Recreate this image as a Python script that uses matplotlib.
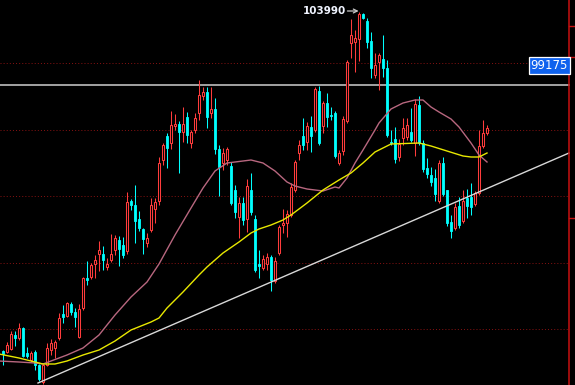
import matplotlib
matplotlib.use("Agg")
import matplotlib.pyplot as plt
from matplotlib.patches import Rectangle

# ---- data (prices) ----
opens = [73480, 73390, 73660, 74920, 74650, 75550, 73300, 72670, 73390, 72220,
         70690, 72220, 73570, 73750, 74650, 76810, 76630, 77710, 76990, 74740,
         77350, 80050, 80140, 81310, 82210, 82210, 81040, 81670, 82570, 83470,
         83020, 82480, 86980, 86620, 85360, 84460, 83200, 84370, 86260, 86980,
         90670, 92830, 92200, 93730, 93910, 93190, 94540, 92200, 93370, 94900,
         96430, 96790, 94900, 95260, 91660, 90400, 90670, 90130, 87970, 85540,
         86800, 85360, 87970, 85360, 81310, 80950, 81310, 81940, 79780, 82300,
         84820, 85000, 85720, 87970, 91300, 92830, 92290, 93640, 93370, 96880,
         93730, 95800, 94720, 94900, 90400, 91480, 94180, 101200, 101290, 101560,
         103810, 103180, 101380, 98320, 99490, 99760, 98950, 92290, 92560, 90940,
         92650, 92740, 93190, 92200, 95620, 92200, 89950, 89320, 89050, 86980,
         90400, 87970, 85090, 84550, 86530, 85180, 87250, 87340, 86710, 87700,
         91930, 93100]
highs = [73570, 74290, 75280, 75280, 76000, 75640, 73840, 73480, 73570, 72310,
         72310, 74200, 74560, 74470, 76900, 77620, 77890, 77890, 77350, 77710,
         80140, 81580, 81400, 82120, 83380, 82930, 81850, 84010, 83920, 83830,
         83740, 87790, 87160, 88420, 86080, 84550, 84100, 87250, 87250, 90940,
         92200, 93100, 95080, 94810, 94180, 95440, 94990, 93370, 94900, 97870,
         97240, 97240, 97240, 96250, 92020, 91750, 91840, 90490, 88420, 87340,
         87340, 88960, 89500, 85720, 82570, 82120, 82300, 82120, 81940, 84820,
         86260, 86170, 88600, 90670, 92470, 94450, 94090, 94630, 97240, 97330,
         95980, 96700, 95440, 95080, 91570, 94630, 99670, 103360, 102370, 103990,
         103900, 103450, 102190, 100300, 100300, 101920, 99670, 93370, 93640, 92560,
         94450, 94450, 95350, 96160, 96430, 92470, 90850, 90040, 89860, 90670,
         90940, 87970, 85720, 86800, 87340, 87970, 88060, 88600, 87880, 93370,
         94270, 93820]
lows = [72220, 73300, 73570, 73930, 74470, 72940, 72850, 72490, 71770, 70780,
        70510, 72130, 73120, 72850, 74470, 76000, 76540, 76720, 75640, 74650,
        77170, 79420, 79960, 80050, 80680, 80770, 80770, 81490, 82120, 81130,
        81850, 82210, 86170, 83200, 84280, 82210, 82840, 84190, 85000, 86620,
        90220, 89950, 91660, 93370, 89500, 92290, 92200, 91750, 93100, 94270,
        96070, 93550, 94450, 91210, 87430, 89770, 90220, 86620, 85450, 83650,
        84820, 84190, 85720, 80590, 80050, 80770, 80770, 78880, 79600, 82120,
        84100, 83740, 85540, 87790, 90670, 91570, 91570, 91390, 93190, 92020,
        93100, 93640, 94270, 90850, 90220, 91120, 94000, 99850, 98590, 99580,
        103360, 100750, 98050, 98050, 96970, 98140, 92740, 92020, 90400, 90580,
        92020, 92470, 92290, 91030, 92020, 89590, 89050, 88330, 86980, 86800,
        87430, 84730, 83650, 84370, 84550, 85000, 85450, 85720, 86530, 87520,
        91750, 92920]
closes = [73210, 74020, 75010, 74650, 75550, 73030, 73030, 73300, 72220, 70960,
          72220, 73750, 74200, 74290, 76450, 76540, 77800, 76990, 76540, 77260,
          80050, 79870, 81220, 81670, 82570, 81670, 81310, 82210, 83650, 82660,
          82120, 86890, 86620, 85180, 84550, 83560, 83650, 86620, 86890, 90400,
          92020, 91750, 93820, 93910, 93190, 93910, 92920, 93190, 94450, 96520,
          96790, 94540, 95260, 91660, 90040, 91300, 91660, 86800, 85990, 86800,
          85270, 88330, 85990, 80770, 81130, 81760, 81940, 79870, 81580, 84640,
          85000, 85810, 88240, 90490, 92020, 92020, 93730, 92830, 97060, 92200,
          95800, 94540, 94630, 91030, 91300, 94360, 99490, 101920, 101650, 103810,
          103450, 101290, 98950, 99220, 100120, 98950, 92920, 92200, 90760, 92110,
          93550, 93820, 92470, 95710, 92200, 89860, 89410, 88690, 87610, 90400,
          87610, 85000, 84280, 86440, 84820, 86980, 86530, 86440, 87700, 91930,
          93100, 93550]

ma_fast_idx = [-1, 4, 8, 10, 12, 16, 20, 24, 28, 32, 36, 39, 43, 47, 50, 53, 56, 58,
               62, 65, 68, 71, 73, 76, 80, 83, 84, 86, 88, 90, 93, 94, 97, 100, 103,
               105, 107, 109, 112, 114, 117, 119, 121]
ma_fast = [72580, 72490, 72400, 72310, 72580, 73120, 73750, 74920, 76720, 78340,
           79690, 81310, 83920, 86350, 88150, 89680, 90400, 90490, 90670, 90400,
           89680, 88690, 88330, 88060, 87880, 88240, 88150, 89050, 90400, 91570,
           93370, 94000, 95260, 95800, 96070, 96070, 95440, 94990, 94360, 93640,
           92200, 91120, 90490]

ma_slow_idx = [-1, 4, 8, 10, 13, 16, 20, 24, 28, 32, 37, 39, 41, 45, 49, 51, 55, 59,
               62, 64, 67, 70, 72, 76, 80, 84, 87, 90, 93, 97, 104, 107, 111, 115,
               117, 119, 121]
ma_slow = [73210, 72850, 72490, 72310, 72310, 72580, 73120, 73570, 74380, 75370,
           76090, 76450, 77350, 78790, 80320, 81040, 82300, 83290, 84100, 84460,
           84820, 85270, 85720, 86800, 87970, 88870, 89500, 90400, 91390, 92110,
           92200, 91930, 91480, 91030, 90940, 90940, 91300]

trend_idx = [8.75, 141.5]
trend_price = [70600, 91300]

grid_levels = [99400, 93415, 87430, 81445, 75460]
hline_level = 97420
axis_ticks = [102730, 99940, 85450]
label_price = 99175
peak_price = 103990
peak_idx = 89

# ---- figure ----
BG = "#000000"
RED = "#ff3c3c"
CYAN = "#00ffff"
fig = plt.figure(figsize=(5.75, 3.85), dpi=100, facecolor=BG)
ax = fig.add_axes([0, 0, 1, 1])
ax.set_facecolor(BG)
ax.set_xlim(-0.75, 143.0)
ax.set_ylim(70420, 105070)
ax.axis("off")

AX_X = 141.5
for g in grid_levels:
    ax.plot([-0.75, AX_X], [g, g], color="#8a1212", lw=0.7,
            linestyle=(0, (1, 2.2)), zorder=1)
ax.plot([-0.75, AX_X], [hline_level, hline_level], color="#cfcfcf", lw=1.1, zorder=2)

# right axis
ax.plot([AX_X, AX_X], [70420, 105070], color="#c81010", lw=1.1, zorder=6)
for t in axis_ticks:
    ax.plot([AX_X, 143.0], [t, t], color="#c81010", lw=1.0, zorder=6)

# candles
bw = 0.55
for i, (o, h, l, c) in enumerate(zip(opens, highs, lows, closes)):
    if c >= o:
        top, bot = c, o
        ax.plot([i, i], [top, h], color=RED, lw=0.75, zorder=3, solid_capstyle="butt")
        ax.plot([i, i], [l, bot], color=RED, lw=0.75, zorder=3, solid_capstyle="butt")
        ax.add_patch(Rectangle((i - bw / 2, bot), bw, max(top - bot, 60),
                               facecolor=BG, edgecolor=RED, lw=0.75, zorder=4))
    else:
        ax.plot([i, i], [l, h], color=CYAN, lw=0.75, zorder=3, solid_capstyle="butt")
        ax.add_patch(Rectangle((i - bw / 2, c), bw, max(o - c, 60),
                               facecolor=CYAN, edgecolor=CYAN, lw=0.6, zorder=4))

# moving averages
ax.plot(ma_fast_idx, ma_fast, color="#b8677f", lw=1.0, zorder=5)
ax.plot(ma_slow_idx, ma_slow, color="#e8e800", lw=1.0, zorder=5)

# trend line
ax.plot(trend_idx, trend_price, color="#d8d8d8", lw=1.0, zorder=5)

# peak annotation
ax.annotate("", xy=(peak_idx - 0.1, peak_price + 90), xytext=(peak_idx - 2.9, peak_price + 90),
            arrowprops=dict(arrowstyle="->", color="#c8c8c8", lw=0.9,
                            shrinkA=0, shrinkB=0, mutation_scale=7), zorder=7)
ax.text(peak_idx - 3.3, peak_price + 90, "103990", color="#f0f4ff", fontsize=7.5,
        fontweight="bold", ha="right", va="center", zorder=7)

# price label
ax.text(AX_X - 0.25, label_price, "99175", color="white", fontsize=8.4,
        ha="right", va="center", zorder=8,
        bbox=dict(boxstyle="square,pad=0.15", facecolor="#0f62ee",
                  edgecolor="white", lw=0.9))

fig.savefig("out.png", dpi=100, facecolor=BG)
